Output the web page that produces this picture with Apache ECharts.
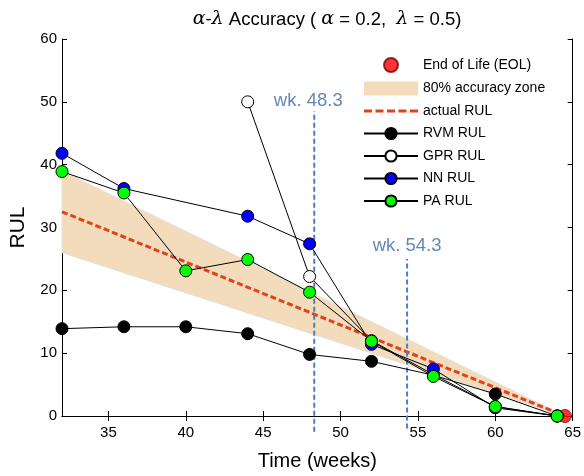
<!DOCTYPE html>
<html><head><meta charset="utf-8">
<script src="https://cdn.jsdelivr.net/npm/echarts@6/dist/echarts.min.js"></script>
<style>html,body{margin:0;padding:0;background:#fff}#c{width:584px;height:476px}</style>
</head><body><div id="c"></div>
<script>
const weeks = [32, 36, 40, 44, 48, 52, 56, 60, 64];
const rvmRUL = [13.9, 14.2, 14.2, 13.1, 9.8, 8.7, 6.5, 3.5, 0];
const gprWeeks = [44, 48, 52, 56, 60, 64];
const gprRUL = [50, 22.2, 12, 6.6, 1.5, 0];
const nnWeeks = [32, 36, 44, 48, 52, 56, 60, 64];
const nnRUL = [41.8, 36.2, 31.8, 27.4, 11.4, 7.5, 1.3, 0];
const paRUL = [38.9, 35.5, 23.1, 24.9, 19.7, 11.9, 6.3, 1.5, 0];
const eolPoint = [64.5, 0];
const actualX = [32, 64.5];
const actualRUL = [32.5, 0];
const zoneUpper = [39, 0];
const zoneLower = [26, 0];
const wkLines = [48.3, 54.3];
const wkLineTop = [48.5, 25];
const wkLineBottom = [-2.5, -2];
const wkLabels = ['wk. 48.3', 'wk. 54.3'];
const xTicks = [35, 40, 45, 50, 55, 60, 65];

const FONT = 'Liberation Sans, Arial, Helvetica, sans-serif';
const zip = (xs, ys) => xs.map((x, i) => [x, ys[i]]);

function dataSeries(name, xs, ys, fill) {
  return {
    type: 'line', name, data: zip(xs, ys),
    symbol: 'circle', symbolSize: 12,
    lineStyle: { color: '#000', width: 1 },
    itemStyle: { color: fill, borderColor: '#000', borderWidth: 1 },
    z: 5
  };
}

const wkSeries = [];
wkLines.forEach((x, i) => {
  wkSeries.push({
    type: 'line', name: 'wk' + i,
    data: [[x, wkLineBottom[i]], [x, wkLineTop[i]]],
    symbol: 'none', clip: false,
    lineStyle: { color: '#4a80c2', width: 2, type: [5, 3] },
    z: 3, silent: true
  });
  wkSeries.push({
    type: 'scatter', name: 'wkl' + i,
    data: [[x, wkLineTop[i]]], symbolSize: 1, clip: false,
    itemStyle: { color: 'rgba(0,0,0,0)' },
    label: { show: true, position: 'top', distance: i === 0 ? 0 : 3,
      offset: i === 0 ? [-6, 0] : [0, 0],
      formatter: wkLabels[i], color: '#3b69a5', fontSize: 18.5, fontFamily: FONT },
    z: 6, silent: true
  });
});

// dashed-line legend icon (bounding dots keep the strokes thin)
const dashIcon = 'path://M0,0h0.01v0.01h-0.01zM0,14h0.01v0.01h-0.01z' +
  'M0,5.5h8v3h-8zM11.5,5.5h8v3h-8zM23,5.5h8v3h-8zM34.5,5.5h8v3h-8zM46,5.5h8v3h-8z';

const option = {
  animation: false,
  backgroundColor: '#fff',
  title: {
    text: '{g|α}-{g|λ} Accuracy ( {g|α} = 0.2,  {g|λ} = 0.5)',
    left: 322, top: 5, textAlign: 'center',
    textStyle: {
      fontSize: 18.5, fontWeight: 'normal', color: '#000', fontFamily: FONT,
      rich: { g: { fontSize: 19, fontStyle: 'italic', fontFamily: 'DejaVu Serif', color: '#000' } }
    }
  },
  grid: { left: 62, right: 9, top: 39, bottom: 56, containLabel: false },
  legend: {
    orient: 'vertical', left: 358, top: 52, itemWidth: 54, itemHeight: 14, itemGap: 8.5,
    textStyle: { fontSize: 14, fontFamily: FONT, color: '#000' },
    data: [
      { name: 'End of Life (EOL)', icon: 'circle' },
      { name: '80% accuracy zone', icon: 'rect' },
      { name: 'actual RUL', icon: dashIcon },
      'RVM RUL', 'GPR RUL', 'NN RUL', 'PA RUL'
    ]
  },
  xAxis: [
    {
      type: 'value', min: 32, max: 65, position: 'bottom',
      name: 'Time (weeks)', nameLocation: 'middle', nameGap: 35,
      nameTextStyle: { fontSize: 20, fontFamily: FONT, color: '#000' },
      axisLine: { show: true, lineStyle: { color: '#000', width: 1 } },
      axisTick: { show: true, inside: true, length: 5, customValues: xTicks, lineStyle: { color: '#000' } },
      axisLabel: { customValues: xTicks, fontSize: 15, fontFamily: FONT, color: '#000', margin: 9 },
      splitLine: { show: false }
    },
    {
      type: 'value', min: 32, max: 65, position: 'top',
      axisLine: { show: true, lineStyle: { color: '#000', width: 1 } },
      axisTick: { show: true, inside: true, length: 5, customValues: xTicks, lineStyle: { color: '#000' } },
      axisLabel: { show: false }, splitLine: { show: false }
    }
  ],
  yAxis: [
    {
      type: 'value', min: 0, max: 60, interval: 10, position: 'left',
      name: 'RUL', nameLocation: 'middle', nameGap: 33, nameRotate: 90,
      nameTextStyle: { fontSize: 21, fontFamily: FONT, color: '#000' },
      axisLine: { show: true, lineStyle: { color: '#000', width: 1 } },
      axisTick: { show: true, inside: true, length: 5, lineStyle: { color: '#000' } },
      axisLabel: { fontSize: 15, fontFamily: FONT, color: '#000', margin: 5 },
      splitLine: { show: false }
    },
    {
      type: 'value', min: 0, max: 60, interval: 10, position: 'right',
      axisLine: { show: true, lineStyle: { color: '#000', width: 1 } },
      axisTick: { show: true, inside: true, length: 5, lineStyle: { color: '#000' } },
      axisLabel: { show: false }, splitLine: { show: false }
    }
  ],
  series: [
    {
      type: 'custom', name: '80% accuracy zone', data: [[actualX[0], zoneLower[0]]],
      itemStyle: { color: '#F2DCBB' }, z: 1, silent: true,
      renderItem: (params, api) => {
        const pts = [];
        for (let i = 0; i < actualX.length; i++) pts.push(api.coord([actualX[i], zoneUpper[i]]));
        for (let i = actualX.length - 1; i >= 0; i--) pts.push(api.coord([actualX[i], zoneLower[i]]));
        return { type: 'polygon', shape: { points: pts }, style: { fill: '#F2DCBB', stroke: '#e6e0d8', lineWidth: 1 } };
      }
    },
    {
      type: 'line', name: 'actual RUL', data: zip(actualX, actualRUL), symbol: 'none',
      lineStyle: { color: '#E2421B', width: 3, type: [6, 3] },
      itemStyle: { color: '#E2421B' }, z: 2
    },
    ...wkSeries,
    {
      type: 'scatter', name: 'End of Life (EOL)', data: [eolPoint], symbolSize: 13,
      itemStyle: { color: '#ff0000', borderColor: '#700', borderWidth: 1 }, z: 4
    },
    dataSeries('RVM RUL', weeks, rvmRUL, '#000'),
    dataSeries('GPR RUL', gprWeeks, gprRUL, '#fff'),
    dataSeries('NN RUL', nnWeeks, nnRUL, '#0000ff'),
    dataSeries('PA RUL', weeks, paRUL, '#00ff00')
  ]
};
const chart = echarts.init(document.getElementById('c'), null, { renderer: 'canvas' });
chart.setOption(option);
</script>
</body></html>
